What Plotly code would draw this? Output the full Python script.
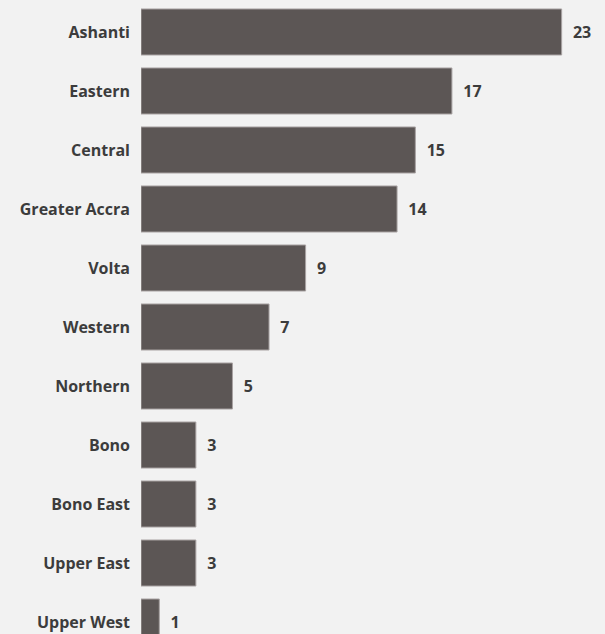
import plotly.graph_objects as go

regions = ["Ashanti", "Eastern", "Central", "Greater Accra", "Volta", "Western",
           "Northern", "Bono", "Bono East", "Upper East", "Upper West"]
counts = [23, 17, 15, 14, 9, 7, 5, 3, 3, 3, 1]

FONT = "Open Sans"
TXT = "#3c3c3c"

fig = go.Figure(go.Bar(
    x=counts, y=regions, orientation="h",
    marker=dict(color="#5c5655", line=dict(color="#a8a2a2", width=1)),
    width=0.78,
    text=[f"  {v}" for v in counts], textposition="outside",
    constraintext="none",
    textfont=dict(family=FONT, size=16, color=TXT, weight="bold"),
    cliponaxis=False,
    hoverinfo="skip",
))

fig.update_layout(
    width=605, height=634,
    margin=dict(l=141, r=0, t=0, b=0),
    paper_bgcolor="#f2f2f2", plot_bgcolor="#f2f2f2",
    showlegend=False,
    font=dict(family=FONT, size=16, color=TXT),
    xaxis=dict(range=[0, 25.37], visible=False, showgrid=False, zeroline=False),
    yaxis=dict(range=[10.203, -0.542], showgrid=False, zeroline=False,
               ticks="", ticklabelstandoff=10,
               tickfont=dict(family=FONT, size=16, color=TXT, weight="bold")),
)

fig.write_html("out.html", config={"displayModeBar": False},
               post_script="document.body.style.margin='0';document.body.style.background='#f2f2f2';")
